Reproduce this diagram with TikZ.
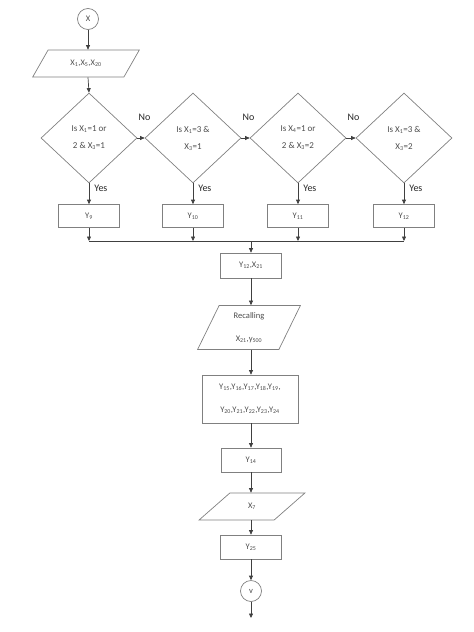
\documentclass[tikz,border=0pt]{standalone}
\usepackage{fontspec}
\setmainfont{Carlito}
\usetikzlibrary{arrows.meta,shapes.geometric}

\newcommand{\ix}[1]{\textsubscript{#1}}

\tikzset{
  conn/.style={draw=gray, circle, minimum size=21pt, inner sep=0pt, text=black!70, font=\fontsize{8.5}{10}\selectfont},
  box/.style={draw=gray, minimum width=61pt, minimum height=23pt, inner sep=1pt, text=black!70, align=center, font=\fontsize{8.5}{23}\selectfont},
  decision/.style={draw=gray, diamond, minimum width=96pt, minimum height=90pt, inner sep=0pt, text=black!70, align=center, font=\fontsize{9}{17}\selectfont},
  io/.style={draw=gray, trapezium, trapezium stretches=true, inner sep=1pt, text=black!70, align=center, font=\fontsize{8.5}{23}\selectfont},
  lab/.style={inner sep=0pt, text=black!85, font=\fontsize{10}{12}\selectfont}
}

\begin{document}
\begin{tikzpicture}[x=1pt, y=-1pt, >={Triangle[length=4.5pt,width=4pt]}, line width=0.7pt, draw=black!75]
        \useasboundingbox (0,0) rectangle (474,632);

        \node[conn] (x) at (88,19) {X};
        \node[io, trapezium left angle=52, trapezium right angle=128, minimum width=107pt, minimum height=27pt] (in) at (86,63.5) {X\ix{1},X\ix{5},X\ix{20}};

        \node[decision] (d1) at (89,138) {Is X\ix{1}=1 or\\2 \& X\ix{3}=1};
        \node[decision] (d2) at (193,138) {Is X\ix{1}=3 \&\\X\ix{3}=1};
        \node[decision] (d3) at (298,138) {Is X\ix{4}=1 or\\2 \& X\ix{3}=2};
        \node[decision] (d4) at (404,138) {Is X\ix{1}=3 \&\\X\ix{3}=2};

        \node[box] (y9) at (89,216) {Y\ix{9}};
        \node[box] (y10) at (193,216) {Y\ix{10}};
        \node[box] (y11) at (298,216) {Y\ix{11}};
        \node[box] (y12) at (404,216) {Y\ix{12}};
        \coordinate (join) at (251,241);

        \node[box, minimum height=25pt] (merge) at (251,265.5) {Y\ix{12},X\ix{21}};
        \node[io, trapezium left angle=70, trapezium right angle=110, minimum width=103pt, minimum height=44pt] (recall) at (249,327.5) {Recalling\\X\ix{21},y\ix{500}};
        \node[box, minimum width=96pt, minimum height=48pt] (group) at (250,399) {Y\ix{15},Y\ix{16},Y\ix{17},Y\ix{18},Y\ix{19},\\Y\ix{20},Y\ix{21},Y\ix{22},Y\ix{23},Y\ix{24}};
        \node[box, minimum width=60pt, minimum height=24pt] (y14) at (251,460) {Y\ix{14}};
        \node[io, trapezium left angle=51, trapezium right angle=129, minimum width=106pt, minimum height=27pt] (x7) at (252,506.5) {X\ix{7}};
        \node[box, minimum height=24pt] (y25) at (251,547) {Y\ix{25}};
        \node[conn] (v) at (251,591) {v};
        \coordinate (out) at (251,618);

        % yes / no
        \foreach \d/\b in {d1/y9, d2/y10, d3/y11, d4/y12}
          {
            \draw[->] (\d.south) -- (\b.north);
            \draw[->] (\b.south) -- (\b.south |- join);
            \node[lab, anchor=north west] (yes\d) at ([xshift=5pt,yshift=-1pt]\d.south) {Yes};
          }
        \foreach \a/\c in {d1/d2, d2/d3, d3/d4}
          {
            \draw[->] (\a.east) -- (\c.west);
            \node[lab, anchor=south west] (no\a) at ([xshift=1pt,yshift=17pt]\a.east) {No};
          }

        \draw[->] (x) -- (x |- in.north);
        \draw[->] (x |- in.south) -- (d1.north);
        \draw (y9.south |- join) -- (y12.south |- join);
        \draw[->] (join) -- (merge);
        \draw[->] (merge) -- (merge |- recall.north);
        \draw[->] (merge |- recall.south) -- (merge |- group.north);
        \draw[->] (group.south -| y14) -- (y14);
        \draw[->] (y14) -- (y14 |- x7.north);
        \draw[->] (y14 |- x7.south) -- (y25);
        \draw[->] (y25) -- (v);
        \draw[->] (v) -- (out);
      \end{tikzpicture}
\end{document}
